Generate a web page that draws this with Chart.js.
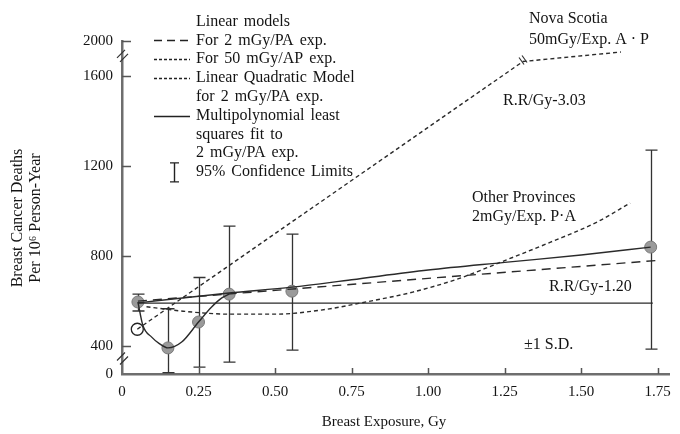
<!DOCTYPE html>
<html>
<head>
<meta charset="utf-8">
<title>Breast cancer deaths vs breast exposure</title>
<script src="https://cdn.jsdelivr.net/npm/chart.js@4.4.1/dist/chart.umd.min.js"></script>
<style>
  html, body { margin: 0; padding: 0; background: #fff; }
  #wrap { width: 680px; height: 434px; position: relative; }
</style>
</head>
<body>
<div id="wrap"><canvas id="chart"></canvas></div>
<script>
// observed rates with 95% confidence limits
const obsX = [0.052, 0.15, 0.25, 0.35, 0.555, 1.727];
const obsY = [596, 392, 507, 631, 644, 840];
const obsLow = [556, 282, 307, 329, 382, 387];
const obsHigh = [631, 566, 705, 933, 898, 1271];

// linear model, 50 mGy/AP exposure (Nova Scotia)
const novaX = [0.05, 1.31, 1.63];
const novaY = [475, 1665, 1707];

// linear model, 2 mGy/PA exposure
const lin2X = [0.052, 1.76];
const lin2Y = [600, 782];

// linear quadratic model, 2 mGy/PA exposure (other provinces)
const lqX = [0.08, 0.2, 0.35, 0.5, 0.65, 0.8, 0.95, 1.1, 1.25, 1.4, 1.55, 1.66];
const lqY = [575, 555, 542, 542, 560, 597, 640, 700, 780, 862, 950, 1036];

// multipolynomial least squares fit (low dose dip)
const polyX = [0.052, 0.068, 0.097, 0.123, 0.15, 0.195, 0.25, 0.292, 0.325, 0.35];
const polyY = [596, 493, 440, 410, 392, 418, 507, 573, 613, 631];

// rising solid line
const upperX = [0.052, 0.35, 0.555, 0.75, 1.0, 1.25, 1.5, 1.727];
const upperY = [592, 636, 662, 695, 738, 772, 805, 840];

// flat solid line
const flatX = [0.052, 1.734];
const flatY = [591, 591];

// open circle at the start of the 50 mGy line
const openX = [0.05];
const openY = [475];

// axes (the y axis is broken below 400 and above 1600)
const xMax = 1.79;
const xTickValues = [0, 0.25, 0.5, 0.75, 1.0, 1.25, 1.5, 1.75];
const xTickLabels = ['0', '0.25', '0.50', '0.75', '1.00', '1.25', '1.50', '1.75'];
const yTickValues = [276, 400, 800, 1200, 1600, 1756];
const yTickLabels = ['0', '400', '800', '1200', '1600', '2000'];

const legendHead = 'Linear models';
const legendRows = [
    'For 2 mGy/PA exp.',
    'For 50 mGy/AP exp.',
    'Linear Quadratic Model',
    'for 2 mGy/PA exp.',
    'Multipolynomial least',
    'squares fit to',
    '2 mGy/PA exp.',
    '95% Confidence Limits'
];

const yTitle = ['Breast Cancer Deaths', 'Per 10\u2076 Person-Year'];
const xTitle = 'Breast Exposure, Gy';

const SERIF = '"Liberation Serif", "Times New Roman", serif';
const INK = '#141414';

function pts(xs, ys) {
    return xs.map((v, i) => ({ x: v, y: ys[i] }));
}

const lineBase = {
    showLine: true,
    pointRadius: 0,
    borderColor: '#2a2a2a',
    borderWidth: 1.4,
    fill: false
};

// error bars, drawn under the points
const errorBars = {
    id: 'errorBars',
    beforeDatasetsDraw(chart) {
        const { ctx, scales: { x, y } } = chart;
        ctx.save();
        ctx.strokeStyle = '#333';
        ctx.lineWidth = 1.3;
        ctx.beginPath();
        obsX.forEach((v, i) => {
            const px = Math.round(x.getPixelForValue(v)) + 0.5;
            const lo = y.getPixelForValue(obsLow[i]);
            const hi = y.getPixelForValue(obsHigh[i]);
            ctx.moveTo(px, lo); ctx.lineTo(px, hi);
            ctx.moveTo(px - 6, lo); ctx.lineTo(px + 6, lo);
            ctx.moveTo(px - 6, hi); ctx.lineTo(px + 6, hi);
        });
        ctx.stroke();
        ctx.restore();
    }
};

function slash(ctx, cx, cy) {
    ctx.moveTo(cx - 4, cy + 4);
    ctx.lineTo(cx + 4, cy - 4);
}

// ticks pointing inward, axis breaks, legend and labels
const decorations = {
    id: 'decorations',
    afterDraw(chart) {
        const { ctx, chartArea: area, scales: { x, y } } = chart;
        ctx.save();

        ctx.strokeStyle = '#555';
        ctx.lineWidth = 1.5;
        ctx.beginPath();
        yTickValues.slice(1).forEach(v => {
            const py = Math.round(y.getPixelForValue(v)) + 0.5;
            ctx.moveTo(area.left, py);
            ctx.lineTo(area.left + 9, py);
        });
        xTickValues.slice(1).forEach(v => {
            const px = Math.round(x.getPixelForValue(v)) + 0.5;
            ctx.moveTo(px, area.bottom);
            ctx.lineTo(px, area.bottom - 6);
        });
        ctx.stroke();

        // breaks on the y axis and on the Nova Scotia line
        ctx.strokeStyle = '#333';
        ctx.lineWidth = 1.2;
        ctx.beginPath();
        [345, 1690].forEach(v => {
            const py = y.getPixelForValue(v);
            slash(ctx, area.left - 1, py - 2);
            slash(ctx, area.left + 2, py + 2);
        });
        const bx = x.getPixelForValue(novaX[1]);
        const by = y.getPixelForValue(novaY[1]);
        ctx.moveTo(bx - 4, by - 4); ctx.lineTo(bx + 1, by + 3);
        ctx.moveTo(bx - 1, by - 6); ctx.lineTo(bx + 4, by + 1);
        ctx.stroke();

        // legend
        ctx.fillStyle = INK;
        ctx.font = '16px ' + SERIF;
        ctx.textBaseline = 'middle';
        ctx.textAlign = 'left';
        ctx.wordSpacing = '2px';
        const lx = 196;
        const rowY = i => 21.5 + 18.8 * i;
        ctx.fillText(legendHead, lx, rowY(0));
        legendRows.forEach((t, i) => ctx.fillText(t, lx, rowY(i + 1)));
        ctx.wordSpacing = '0px';

        ctx.strokeStyle = '#222';
        ctx.lineWidth = 1.4;
        const samples = [[1, [8, 5]], [2, [3, 2]], [3, [3, 2]], [5, []]];
        samples.forEach(([row, dash]) => {
            ctx.setLineDash(dash);
            ctx.beginPath();
            const sy = Math.round(rowY(row)) + 0.5;
            ctx.moveTo(154, sy);
            ctx.lineTo(190, sy);
            ctx.stroke();
        });
        ctx.setLineDash([]);
        ctx.beginPath();
        const ey = rowY(8);
        ctx.moveTo(174.5, ey - 9); ctx.lineTo(174.5, ey + 10);
        ctx.moveTo(170, ey - 9); ctx.lineTo(179, ey - 9);
        ctx.moveTo(170, ey + 10); ctx.lineTo(179, ey + 10);
        ctx.stroke();

        // annotations
        ctx.fillText('Nova Scotia', 529, 19);
        ctx.fillText('50mGy/Exp. A \u00b7 P', 529, 40);
        ctx.fillText('R.R/Gy-3.03', 503, 101);
        ctx.fillText('Other Provinces', 472, 198);
        ctx.fillText('2mGy/Exp. P\u00b7A', 472, 217);
        ctx.fillText('R.R/Gy-1.20', 549, 287);
        ctx.fillText('\u00b11 S.D.', 524, 345);

        // axis titles
        ctx.textAlign = 'center';
        ctx.font = '15px ' + SERIF;
        ctx.fillText(xTitle, 384, 422);
        ctx.font = '16px ' + SERIF;
        [18, 36].forEach((tx, i) => {
            ctx.save();
            ctx.translate(tx, 218);
            ctx.rotate(-Math.PI / 2);
            ctx.fillText(yTitle[i], 0, 0);
            ctx.restore();
        });

        ctx.restore();
    }
};

const tickFont = { family: SERIF, size: 15 };

new Chart(document.getElementById('chart'), {
    type: 'scatter',
    data: {
        datasets: [
            { ...lineBase, data: pts(novaX, novaY), borderDash: [4, 3] },
            { ...lineBase, data: pts(lqX, lqY), borderDash: [4, 3], cubicInterpolationMode: 'monotone' },
            { ...lineBase, data: pts(lin2X, lin2Y), borderDash: [9, 6] },
            { ...lineBase, data: pts(polyX, polyY), cubicInterpolationMode: 'monotone' },
            { ...lineBase, data: pts(upperX, upperY), cubicInterpolationMode: 'monotone' },
            { ...lineBase, data: pts(flatX, flatY) },
            {
                data: pts(openX, openY),
                pointRadius: 6,
                pointBackgroundColor: '#fff',
                pointBorderColor: '#222',
                pointBorderWidth: 1.3
            },
            {
                data: pts(obsX, obsY),
                pointRadius: 6,
                pointBackgroundColor: '#9a9a9a',
                pointBorderColor: '#7a7a7a',
                pointBorderWidth: 1
            }
        ]
    },
    options: {
        responsive: true,
        maintainAspectRatio: false,
        animation: false,
        layout: { padding: { top: 41, right: 7, left: 0, bottom: 0 } },
        plugins: {
            legend: { display: false },
            tooltip: { enabled: false }
        },
        scales: {
            x: {
                type: 'linear',
                min: 0,
                max: xMax,
                afterBuildTicks: s => { s.ticks = xTickValues.map(v => ({ value: v })); },
                afterFit: s => { s.height = 60; },
                grid: { display: false, drawTicks: false },
                border: { display: true, color: '#6e6e6e', width: 2.5 },
                ticks: {
                    padding: 9,
                    autoSkip: false,
                    maxRotation: 0,
                    color: INK,
                    font: tickFont,
                    callback: (v, i) => xTickLabels[i]
                }
            },
            y: {
                type: 'linear',
                min: yTickValues[0],
                max: yTickValues[yTickValues.length - 1],
                afterBuildTicks: s => { s.ticks = yTickValues.map(v => ({ value: v })); },
                afterFit: s => { s.width = 122; },
                grid: { display: false, drawTicks: false },
                border: { display: true, color: '#6e6e6e', width: 2.5 },
                ticks: {
                    padding: 9,
                    autoSkip: false,
                    color: INK,
                    font: tickFont,
                    callback: (v, i) => yTickLabels[i]
                }
            }
        }
    },
    plugins: [errorBars, decorations]
});
</script>
</body>
</html>
